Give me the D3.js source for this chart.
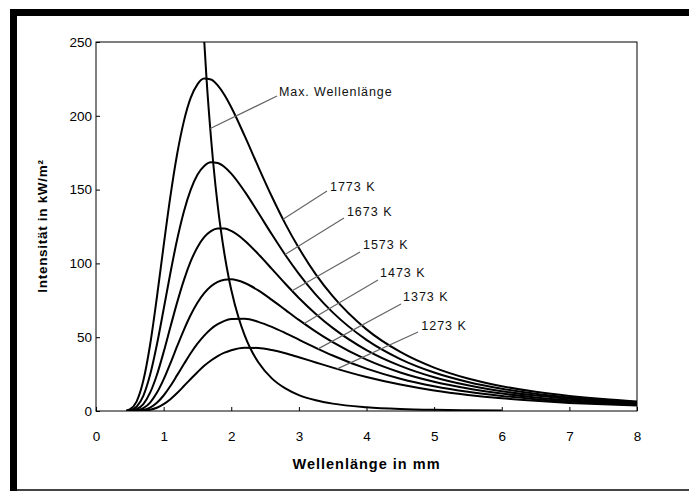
<!DOCTYPE html>
<html><head><meta charset="utf-8">
<script src="https://cdn.jsdelivr.net/npm/d3@7/dist/d3.min.js"></script>
<style>body{margin:0;background:#fff}svg{display:block}</style>
</head><body>
<svg id="c" width="689" height="491"></svg>
<script>
// ---- data ----
const wavelengths = [0.45,0.5,0.6,0.7,0.8,0.9,1.0,1.1,1.2,1.3,1.4,1.5,1.6,1.7,1.8,1.9,2.0,2.2,2.4,2.6,2.8,3.0,3.25,3.5,4.0,4.5,5.0,5.5,6.0,6.5,7.0,7.5,8.0];
const seriesNames = ["1273 K","1373 K","1473 K","1573 K","1673 K","1773 K"];
const s1273 = [0,0,0,0.2,0.8,2.2,4.6,8.0,12.2,16.9,21.7,26.3,30.6,34.2,37.2,39.5,41.2,42.9,42.7,41.3,39.1,36.4,32.9,29.4,23.0,17.9,13.9,10.9,8.6,6.9,5.5,4.5,3.7];
const s1373 = [0,0,0.1,0.7,2.3,5.6,10.5,16.9,24.3,31.8,39.1,45.6,51.1,55.6,58.8,61.1,62.3,62.5,60.4,57.0,52.8,48.3,42.8,37.6,28.7,21.9,16.8,13.0,10.2,8.0,6.4,5.2,4.2];
const s1473 = [0,0,0.4,1.9,5.7,12.3,21.4,32.3,43.9,55.0,65.0,73.3,79.8,84.5,87.5,89.0,89.2,86.7,81.7,75.3,68.5,61.7,53.8,46.6,34.8,26.1,19.8,15.2,11.8,9.2,7.3,5.9,4.8];
const s1573 = [0,0.1,1.2,4.7,12.4,24.4,39.9,56.9,73.6,88.7,101.3,111.0,117.8,121.9,123.7,123.6,122.0,115.4,106.3,96.3,86.2,76.6,65.8,56.3,41.3,30.6,22.9,17.4,13.4,10.5,8.3,6.6,5.3];
const s1673 = [0.1,0.4,2.9,10.3,24.5,44.9,68.9,93.5,116.2,135.2,149.8,160.0,166.0,168.5,168.0,165.3,160.8,148.6,134.3,119.7,105.7,92.9,78.8,66.8,48.2,35.2,26.1,19.7,15.1,11.7,9.2,7.3,5.9];
const s1773 = [0.3,1.1,6.4,20.6,44.9,76.9,111.9,145.4,174.1,196.4,212.1,221.3,225.2,224.6,220.6,214.1,205.8,186.2,165.4,145.3,126.8,110.4,92.6,77.8,55.3,40.0,29.4,22.0,16.8,13.0,10.2,8.1,6.5];
const seriesValues = [s1273,s1373,s1473,s1573,s1673,s1773];
// locus of maximum (Wien)
const peakWl = [1.6,1.634,1.7,1.732,1.8,1.842,1.9,1.967,2.0,2.111,2.2,2.276,2.4,2.6,2.8,3.0,3.25,3.5,4.0,4.5,5.0,5.5,6.0];
const peakE  = [250.9,225.5,185.3,168.7,139.2,124.0,106.2,89.3,82.2,62.8,51.1,43.0,33.0,22.1,15.3,10.8,7.3,5.0,2.6,1.4,0.8,0.5,0.3];
const xTicks = [0,1,2,3,4,5,6,7,8];
const yTicks = [0,50,100,150,200,250];
const maxLabel = "Max. Wellenlänge";
const xTitle = "Wellenlänge in mm";
const yTitle = "Intensität in kW/m²";

// ---- layout ----
const svg = d3.select("#c");
const L = 96, R = 637, T = 42, B = 411;
const x = d3.scaleLinear().domain([0,8]).range([L,R]);
const y = d3.scaleLinear().domain([0,250]).range([B,T]);
const font = "Arial, 'Liberation Sans', sans-serif";

// frame
svg.append("rect").attr("x",10).attr("y",9).attr("width",679).attr("height",7).attr("fill","#000");
svg.append("rect").attr("x",10).attr("y",9).attr("width",7).attr("height",482).attr("fill","#000");
svg.append("rect").attr("x",17).attr("y",489).attr("width",672).attr("height",2).attr("fill","#444");

svg.append("clipPath").attr("id","clip").append("rect")
  .attr("x",L).attr("y",T).attr("width",R-L).attr("height",B-T);

// axes
const xa = svg.append("g").attr("transform",`translate(0,${B})`)
  .call(d3.axisBottom(x).tickValues(xTicks).tickFormat(d3.format("d")).tickSizeInner(-4).tickSizeOuter(0).tickPadding(20));
const ya = svg.append("g").attr("transform",`translate(${L},0)`)
  .call(d3.axisLeft(y).tickValues(yTicks).tickFormat(d3.format("d")).tickSizeInner(-4).tickSizeOuter(0).tickPadding(4));
[xa,ya].forEach(g=>{
  g.select(".domain").remove();
  g.selectAll("line").attr("stroke","#000");
  g.selectAll("text").attr("font-family",font).attr("font-size",13.5).attr("fill","#000");
});

// plot border
svg.append("rect").attr("x",L).attr("y",T).attr("width",R-L).attr("height",B-T)
  .attr("fill","none").attr("stroke","#000").attr("stroke-width",1);

// curves
const line = d3.line().x(d=>x(d[0])).y(d=>y(d[1])).curve(d3.curveMonotoneX);
const gc = svg.append("g").attr("clip-path","url(#clip)");
seriesValues.forEach(vals=>{
  gc.append("path").attr("d", line(wavelengths.map((w,i)=>[w,vals[i]])))
    .attr("fill","none").attr("stroke","#000").attr("stroke-width",2).attr("stroke-linejoin","round");
});
gc.append("path").attr("d", line(peakWl.map((w,i)=>[w,peakE[i]])))
  .attr("fill","none").attr("stroke","#000").attr("stroke-width",2).attr("stroke-linejoin","round");

// annotations: [series index, start wavelength on curve, end λ, end E, text λ, text E]
function onCurve(xs, ys, w){
  for(let i=1;i<xs.length;i++){ if(xs[i]>=w){ const t=(w-xs[i-1])/(xs[i]-xs[i-1]); return ys[i-1]+t*(ys[i]-ys[i-1]); } }
  return ys[ys.length-1];
}
const ann = [
  [5, 2.766, 3.416, 149.0, 3.46, 151.8],
  [4, 2.795, 3.667, 130.8, 3.71, 134.8],
  [3, 2.90, 3.904, 107.7, 3.948, 112.5],
  [2, 3.077, 4.17, 88.8, 4.20, 93.5],
  [1, 3.284, 4.51, 72.5, 4.54, 77.2],
  [0, 3.565, 4.763, 53.5, 4.81, 57.6]
];
const ga = svg.append("g");
ann.forEach(a=>{
  const sy = onCurve(wavelengths, seriesValues[a[0]], a[1]);
  ga.append("line").attr("x1",x(a[1])).attr("y1",y(sy)).attr("x2",x(a[2])).attr("y2",y(a[3]))
    .attr("stroke","#666").attr("stroke-width",1.2);
  ga.append("text").attr("x",x(a[4])).attr("y",y(a[5])).attr("dy","0.35em")
    .attr("font-family",font).attr("font-size",12.5).attr("letter-spacing",1).attr("fill","#111").text(seriesNames[a[0]]);
});
// max label
const mw = 1.69, me = onCurve(peakWl, peakE, mw);
ga.append("line").attr("x1",x(mw)).attr("y1",y(me)).attr("x2",x(2.677)).attr("y2",y(213.4))
  .attr("stroke","#666").attr("stroke-width",1.2);
ga.append("text").attr("x",x(2.706)).attr("y",y(216.1)).attr("dy","0.35em")
  .attr("font-family",font).attr("font-size",12.5).attr("letter-spacing",0.9).attr("fill","#111").text(maxLabel);

// titles
svg.append("text").attr("x",(L+R)/2).attr("y",464).attr("dy","0.35em").attr("text-anchor","middle")
  .attr("font-family",font).attr("font-weight","bold").attr("font-size",14.5).attr("letter-spacing",1).text(xTitle);
svg.append("text").attr("transform","translate(42,226) rotate(-90)").attr("dy","0.35em").attr("text-anchor","middle")
  .attr("font-family",font).attr("font-weight","bold").attr("font-size",13.5).attr("letter-spacing",0.7).text(yTitle);
</script>
</body></html>
